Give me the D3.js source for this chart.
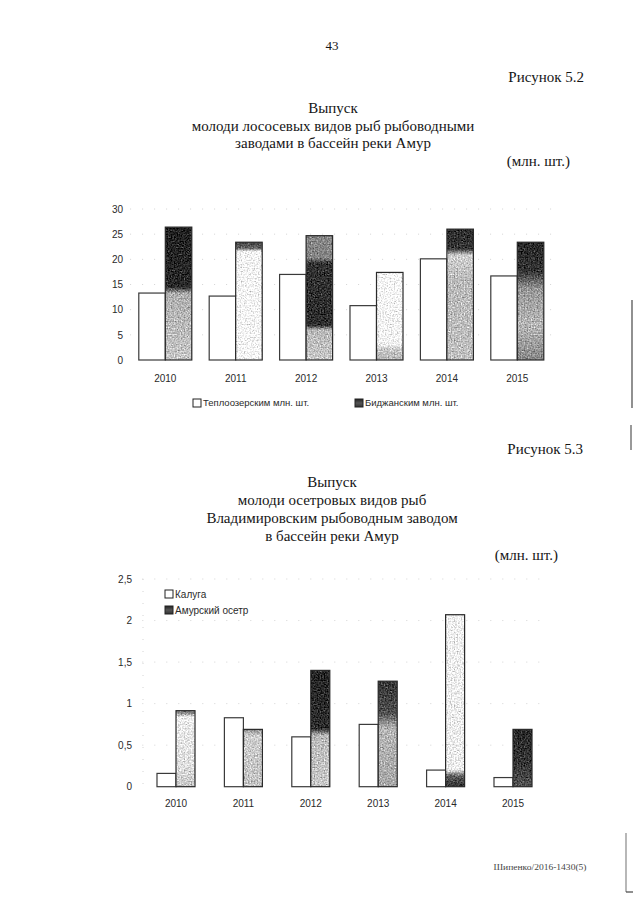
<!DOCTYPE html>
<html><head><meta charset="utf-8">
<script src="https://cdn.jsdelivr.net/npm/d3@7"></script>
<style>
html,body{margin:0;padding:0;background:#fff;}
svg{display:block;}
</style></head>
<body>
<script>
// ---------- DATA ----------
const years = ["2010","2011","2012","2013","2014","2015"];
// Figure 5.2 (million pcs)
const teploozersky = [13.3, 12.7, 17.0, 10.8, 20.1, 16.7];
const bidzhansky   = [26.4, 23.4, 24.7, 17.4, 26.0, 23.4];
const ticks1 = [0, 5, 10, 15, 20, 25, 30];
const series1Names = ["Теплоозерским млн. шт.", "Биджанским млн. шт."];
// Figure 5.3 (million pcs)
const kaluga      = [0.16, 0.83, 0.60, 0.75, 0.20, 0.11];
const amurSturgeon = [0.915, 0.69, 1.40, 1.27, 2.07, 0.69];
const ticks2 = [0, 0.5, 1, 1.5, 2, 2.5];
const series2Names = ["Калуга", "Амурский осетр"];

// ---------- STYLE (scan tone of the gradient-filled bars, top -> bottom) ----------
const tones1 = [
  [[0,"#222"],[0.45,"#2a2a2a"],[0.5,"#b0b0b0"],[1,"#c8c8c8"]],
  [[0,"#444"],[0.05,"#666"],[0.08,"#f6f6f6"],[1,"#f8f8f8"]],
  [[0,"#888"],[0.18,"#858585"],[0.22,"#333"],[0.72,"#2e2e2e"],[0.76,"#bbb"],[1,"#c8c8c8"]],
  [[0,"#fafafa"],[0.82,"#f4f4f4"],[0.88,"#c8c8c8"],[1,"#b8b8b8"]],
  [[0,"#2e2e2e"],[0.15,"#363636"],[0.2,"#d2d2d2"],[0.4,"#bbb"],[1,"#c2c2c2"]],
  [[0,"#282828"],[0.25,"#363636"],[0.4,"#999"],[0.7,"#b8b8b8"],[1,"#888"]]
];
const tones2 = [
  [[0,"#777"],[0.04,"#999"],[0.08,"#eeeeee"],[0.75,"#e0e0e0"],[1,"#c6c6c6"]],
  [[0,"#8a8a8a"],[0.05,"#aaa"],[0.1,"#cfcfcf"],[1,"#c4c4c4"]],
  [[0,"#262626"],[0.5,"#2e2e2e"],[0.56,"#bbbbbb"],[1,"#cacaca"]],
  [[0,"#363636"],[0.3,"#505050"],[0.45,"#b8b8b8"],[1,"#a8a8a8"]],
  [[0,"#f2f2f2"],[0.9,"#eeeeee"],[0.94,"#5a5a5a"],[1,"#333"]],
  [[0,"#2a2a2a"],[0.6,"#363636"],[1,"#555"]]
];

const W = 640, H = 905;
const svg = d3.select("body").append("svg").attr("width", W).attr("height", H);
const defs = svg.append("defs");

// speckle filter imitating the scan
const f = defs.append("filter").attr("id","speckle").attr("color-interpolation-filters","sRGB")
  .attr("x","-5%").attr("y","-5%").attr("width","110%").attr("height","110%");
f.append("feTurbulence").attr("type","fractalNoise").attr("baseFrequency","0.7").attr("numOctaves",1).attr("seed",3).attr("result","n");
f.append("feColorMatrix").attr("in","n").attr("type","matrix")
  .attr("values","0.33 0.33 0.33 0 0  0.33 0.33 0.33 0 0  0.33 0.33 0.33 0 0  0 0 0 0 1").attr("result","g");
f.append("feComposite").attr("in","SourceGraphic").attr("in2","g").attr("operator","arithmetic")
  .attr("k1",0).attr("k2",1).attr("k3",1.3).attr("k4",-0.65).attr("result","m");
f.append("feComposite").attr("in","m").attr("in2","SourceGraphic").attr("operator","in");

function makeGrad(id, stops){
  const g = defs.append("linearGradient").attr("id",id).attr("x1",0).attr("y1",0).attr("x2",0).attr("y2",1);
  stops.forEach(s => g.append("stop").attr("offset",s[0]).attr("stop-color",s[1]));
}
tones1.forEach((t,i)=>makeGrad("g1_"+i,t));
tones2.forEach((t,i)=>makeGrad("g2_"+i,t));
makeGrad("legendDark", [[0,"#222"],[0.5,"#555"],[1,"#333"]]);

const serif = "'Liberation Serif','Times New Roman',serif";
const sans = "'Liberation Sans',Arial,sans-serif";

function txt(x, y, s, size, anchor, fam, fill){
  return svg.append("text").attr("x",x).attr("y",y).attr("font-family",fam||serif)
    .attr("font-size",size).attr("text-anchor",anchor||"middle").attr("fill",fill||"#151515").text(s);
}

// ---------- page text ----------
txt(332, 50, "43", 13);
txt(584, 82, "Рисунок 5.2", 15, "end");
txt(333, 113, "Выпуск", 15);
txt(333, 131, "молоди лососевых видов рыб рыбоводными", 15);
txt(333, 148, "заводами в бассейн реки Амур", 15);
txt(570, 166, "(млн. шт.)", 15, "end");

txt(583, 454, "Рисунок 5.3", 15, "end");
txt(332, 487, "Выпуск", 15);
txt(332, 505, "молоди осетровых видов рыб", 15);
txt(332, 523, "Владимировским рыбоводным заводом", 15);
txt(332, 541, "в бассейн реки Амур", 15);
txt(558, 560, "(млн. шт.)", 15, "end");

txt(540, 870, "Шипенко/2016-1430(5)", 8, "middle", serif, "#444").attr("textLength",93).attr("lengthAdjust","spacingAndGlyphs");

// scan edge lines
svg.append("line").attr("x1",632).attr("x2",632).attr("y1",300).attr("y2",408).attr("stroke","#555").attr("stroke-width",1.3);
svg.append("line").attr("x1",631).attr("x2",631).attr("y1",425).attr("y2",450).attr("stroke","#555").attr("stroke-width",1.2);
svg.append("line").attr("x1",626).attr("x2",626).attr("y1",833).attr("y2",892).attr("stroke","#888").attr("stroke-width",1.2);
svg.append("line").attr("x1",626).attr("x2",633).attr("y1",892).attr("y2",892).attr("stroke","#444").attr("stroke-width",1.2);

// ---------- chart builder ----------
function chart(opts){
  const g = svg.append("g");
  const x = d3.scaleBand().domain(years).range(opts.xr).paddingInner(opts.pad).paddingOuter(opts.pad/2);
  const xs = d3.scaleBand().domain([0,1]).range([0, x.bandwidth()]);
  const y = d3.scaleLinear().domain(opts.ydom).range(opts.yr);

  // faint dotted grid (scan remnants)
  g.selectAll("line.grid").data(opts.ticks.slice(1)).join("line")
    .attr("x1", opts.xr[0]).attr("x2", opts.xr[1]).attr("y1", d=>y(d)).attr("y2", d=>y(d))
    .attr("stroke","#d4d4d4").attr("stroke-width",1).attr("stroke-dasharray","1,11");

  const ax = d3.axisLeft(y).tickValues(opts.ticks).tickSize(0).tickPadding(0).tickFormat(opts.fmt);
  const ag = g.append("g").attr("transform",`translate(${opts.axisX},0)`).call(ax);
  ag.select(".domain").remove();
  ag.selectAll("text").attr("font-family",sans).attr("font-size",10).attr("fill","#2a2a2a");

  const bx = d3.axisBottom(x).tickSize(0).tickPadding(0);
  const bg = g.append("g").attr("transform",`translate(0,${opts.xLabelY})`).call(bx);
  bg.select(".domain").remove();
  bg.selectAll("text").attr("font-family",sans).attr("font-size",10).attr("fill","#2a2a2a").attr("dy","0.35em");

  // first series (white)
  g.selectAll("rect.s0").data(opts.s0).join("rect")
    .attr("x",(d,i)=>x(years[i])+xs(0)).attr("width",xs.bandwidth())
    .attr("y",d=>y(d)).attr("height",d=>y(0)-y(d))
    .attr("fill","#fff").attr("stroke","#3a3a3a").attr("stroke-width",1.2);
  // second series (gradient, scanned)
  g.selectAll("rect.s1").data(opts.s1).join("rect")
    .attr("x",(d,i)=>x(years[i])+xs(1)).attr("width",xs.bandwidth())
    .attr("y",d=>y(d)).attr("height",d=>y(0)-y(d))
    .attr("fill",(d,i)=>`url(#${opts.gid}${i})`).attr("filter","url(#speckle)");
  g.selectAll("rect.s1o").data(opts.s1).join("rect")
    .attr("x",(d,i)=>x(years[i])+xs(1)).attr("width",xs.bandwidth())
    .attr("y",d=>y(d)).attr("height",d=>y(0)-y(d))
    .attr("fill","none").attr("stroke","#2a2a2a").attr("stroke-width",1.2);
  return g;
}

chart({xr:[130.1,552.5], pad:0.247, ydom:[0,30], yr:[360,209], ticks:ticks1,
  fmt:d3.format("d"), axisX:123, xLabelY:378, s0:teploozersky, s1:bidzhansky, gid:"g1_"});

chart({xr:[142.3,546.7], pad:0.436, ydom:[0,2.5], yr:[786.7,579], ticks:ticks2,
  fmt:d=>String(d).replace(".",","), axisX:132, xLabelY:803, s0:kaluga, s1:amurSturgeon, gid:"g2_"});

// left dotted axis remnant for chart 2
svg.append("line").attr("x1",143).attr("x2",143).attr("y1",579).attr("y2",786)
  .attr("stroke","#d4d4d4").attr("stroke-dasharray","1,11");

// ---------- legends ----------
function legendItem(x, y, label, dark, size){
  svg.append("rect").attr("x",x).attr("y",y-4).attr("width",8).attr("height",8)
    .attr("fill", dark ? "url(#legendDark)" : "#fff").attr("stroke","#222").attr("stroke-width",1);
  svg.append("text").attr("x",x+10).attr("y",y).attr("dy","0.35em").attr("font-family",sans)
    .attr("font-size",size).attr("fill","#2a2a2a").text(label);
}
legendItem(193, 403, series1Names[0], false, 9.5);
legendItem(355, 403, series1Names[1], true, 9.5);
legendItem(165, 594, series2Names[0], false, 10);
legendItem(165, 610, series2Names[1], true, 10);
</script>
</body></html>
